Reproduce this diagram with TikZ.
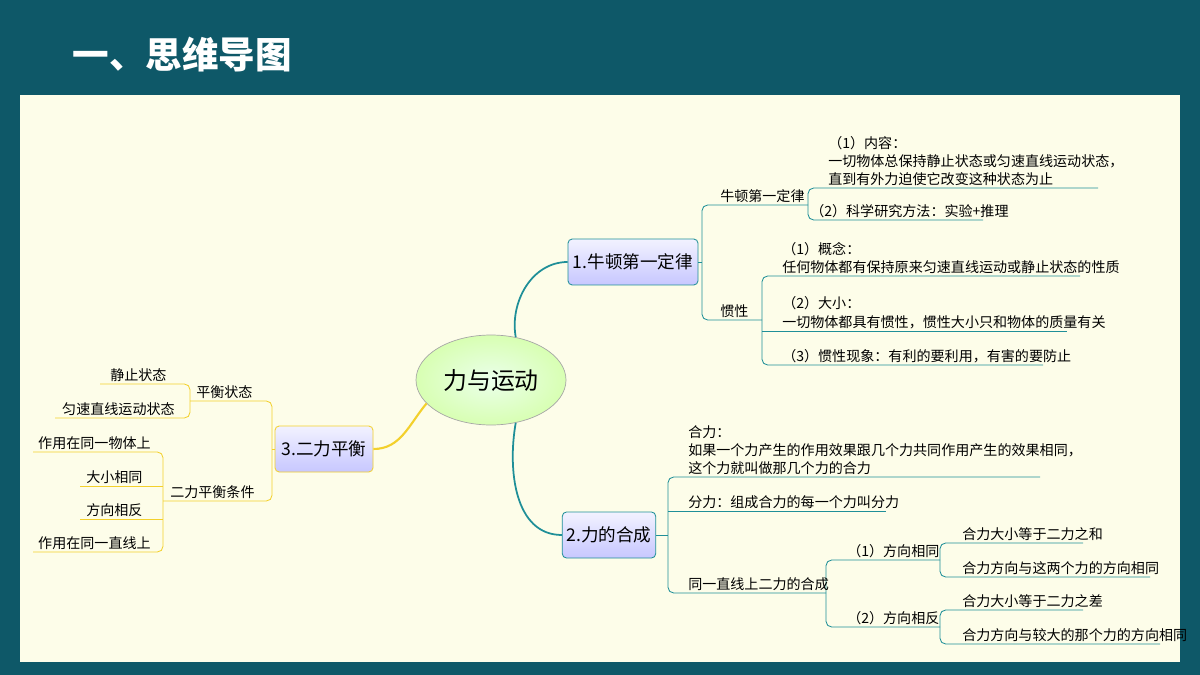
\documentclass[tikz,border=0pt]{standalone}
\usepackage{fontspec}
\setmainfont{Noto Sans CJK SC}
\usetikzlibrary{shapes.geometric}
\definecolor{bgteal}{HTML}{0E5868}
\definecolor{paper}{HTML}{FDFDE9}
\definecolor{tealline}{HTML}{1F8F98}
\definecolor{yelline}{HTML}{F3D02C}
\tikzset{
  topic/.style={draw=#1,line width=1.2pt,rounded corners=6pt,top color=blue!5,bottom color=blue!22,minimum height=2.3cm,font=\fontsize{25}{30}\selectfont,inner xsep=6pt},
  leaf/.style={anchor=south west,inner sep=3pt,font=\fontsize{20}{26}\selectfont,align=left},
  tline/.style={tealline,line width=1.2pt,rounded corners=8pt},
  yline/.style={yelline,line width=1.2pt,rounded corners=8pt},
}
\begin{document}
\begin{tikzpicture}[x=0.05cm,y=-0.05cm]
\fill[bgteal] (0,0) rectangle (1200,675);
\fill[paper] (20,95) rectangle (1180,662);
\node[white,anchor=west,font=\bfseries\fontsize{52}{60}\selectfont] (title) at (70,55) {一、思维导图};
% centre
\node[ellipse,draw=gray!70,line width=1pt,inner color=green!8,outer color=green!35!lime!30,minimum width=7.5cm,minimum height=4.5cm,font=\fontsize{34}{40}\selectfont] (core) at (491,380) {力与运动};
\node[topic=tealline,minimum width=6.5cm] (law) at (633,262) {1.牛顿第一定律};
\node[topic=tealline,minimum width=4.1cm] (comp) at (609,535) {2.力的合成};
\node[topic=yelline,minimum width=4.9cm] (bal) at (324,449) {3.二力平衡};
\draw[tealline,line width=2.5pt] (core.60) to[out=100,in=180] (law.west);
\draw[tealline,line width=2.5pt] (core.-60) to[out=-100,in=180] (comp.west);
\draw[yelline,line width=3pt] (core.200) to[out=230,in=0] (bal.east);
% branch 1
\draw[tline] (law.east) -- (702,262);
\draw[tline] (808,205) -- (702,205) -- (702,320) -- (762,320);
\draw[tline] (1098,188) -- (808,188) -- (808,220) -- (983,220);
\draw[tline] (1080,276) -- (762,276) -- (762,365) -- (1043,365);
\draw[tline] (762,331) -- (1067,331);
\node[leaf] (lawa) at (718,205) {牛顿第一定律};
\node[leaf] (lawa1) at (826,188) {（1）内容：\\一切物体总保持静止状态或匀速直线运动状态，\\直到有外力迫使它改变这种状态为止};
\node[leaf] (lawa2) at (808,220) {（2）科学研究方法：实验+推理};
\node[leaf] (lawb) at (718,320) {惯性};
\node[leaf] (lawb1) at (780,276) {（1）概念：\\任何物体都有保持原来匀速直线运动或静止状态的性质};
\node[leaf] (lawb2) at (780,331) {（2）大小：\\一切物体都具有惯性，惯性大小只和物体的质量有关};
\node[leaf] (lawb3) at (780,365) {（3）惯性现象：有利的要利用，有害的要防止};
% branch 2
\draw[tline] (comp.east) -- (668,535);
\draw[tline] (1040,477) -- (668,477) -- (668,593) -- (826,593);
\draw[tline] (668,511) -- (886,511);
\draw[tline] (940,560) -- (826,560) -- (826,627) -- (940,627);
\draw[tline] (1083,543) -- (940,543) -- (940,577) -- (1150,577);
\draw[tline] (1083,610) -- (940,610) -- (940,644) -- (1160,644);
\node[leaf] (compa) at (686,477) {合力：\\如果一个力产生的作用效果跟几个力共同作用产生的效果相同，\\这个力就叫做那几个力的合力};
\node[leaf] (compb) at (686,511) {分力：组成合力的每一个力叫分力};
\node[leaf] (compc) at (686,593) {同一直线上二力的合成};
\node[leaf] (compc1) at (845,560) {（1）方向相同};
\node[leaf] (compc2) at (845,627) {（2）方向相反};
\node[leaf] (sum1) at (960,543) {合力大小等于二力之和};
\node[leaf] (sum2) at (960,577) {合力方向与这两个力的方向相同};
\node[leaf] (dif1) at (960,610) {合力大小等于二力之差};
\node[leaf] (dif2) at (960,644) {合力方向与较大的那个力的方向相同};
% branch 3
\draw[yline] (bal.west) -- (272,449);
\draw[yline] (190,401) -- (272,401) -- (272,501) -- (163,501);
\draw[yline] (100,384) -- (190,384) -- (190,418) -- (55,418);
\draw[yline] (33,452) -- (163,452) -- (163,552) -- (33,552);
\draw[yline] (80,486) -- (163,486);
\draw[yline] (80,519) -- (163,519);
\node[leaf] (bala) at (194,401) {平衡状态};
\node[leaf] (bala1) at (108,384) {静止状态};
\node[leaf] (bala2) at (60,418) {匀速直线运动状态};
\node[leaf] (balb) at (168,501) {二力平衡条件};
\node[leaf] (balb1) at (36,452) {作用在同一物体上};
\node[leaf] (balb2) at (84,486) {大小相同};
\node[leaf] (balb3) at (84,519) {方向相反};
\node[leaf] (balb4) at (36,552) {作用在同一直线上};
\end{tikzpicture}
\end{document}
